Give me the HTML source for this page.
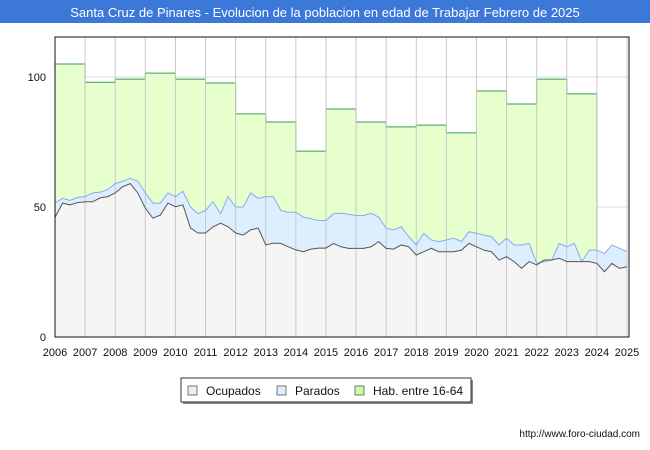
<!DOCTYPE html>
<html><head><meta charset="utf-8">
<style>
body{margin:0;background:#fff;font-family:"Liberation Sans",sans-serif;}
#wrap{position:relative;width:650px;height:450px;overflow:hidden;}
</style></head>
<body>
<div id="wrap">
<svg id="chart" width="650" height="450" xmlns="http://www.w3.org/2000/svg" font-family="Liberation Sans, sans-serif">
<rect x="0" y="0" width="650" height="450" fill="#fff"/>
<rect x="0" y="0" width="650" height="23" fill="#3b78d8"/>
<text x="325" y="17" text-anchor="middle" font-size="13" fill="#fff">Santa Cruz de Pinares - Evolucion de la poblacion en edad de Trabajar Febrero de 2025</text>
<g id="grid"></g>
<g id="series"></g>
<g id="axes"></g>
<g>
<rect x="183" y="380" width="290" height="24" fill="#888"/>
<rect x="181" y="378" width="290" height="24" fill="#fff" stroke="#333"/>
<rect x="188" y="386" width="9" height="9" fill="#eee" stroke="#777"/>
<text x="206" y="395" font-size="12" fill="#111">Ocupados</text>
<rect x="277" y="386" width="9" height="9" fill="#ddeeff" stroke="#777"/>
<text x="295" y="395" font-size="12" fill="#111">Parados</text>
<rect x="355" y="386" width="9" height="9" fill="#ccff99" stroke="#777"/>
<text x="373" y="395" font-size="12" fill="#111">Hab. entre 16-64</text>
</g>
<text x="640" y="437" text-anchor="end" font-size="10" fill="#111">http://www.foro-ciudad.com</text>
</svg>
</div>
<script>
const years = [2006,2007,2008,2009,2010,2011,2012,2013,2014,2015,2016,2017,2018,2019,2020,2021,2022,2023,2024,2025];
const habValues = [105,98,99.2,101.5,99.2,97.7,85.8,82.7,71.5,87.7,82.7,80.8,81.5,78.5,94.6,89.6,99.2,93.5];
const ocupados = [46,51.5,50.8,51.7,52,52,53.5,54,55.4,57.8,59,55.4,49.6,45.7,46.9,51.5,50.1,50.8,41.9,40,40,42.4,43.8,42.4,40,39.2,41.2,41.9,35.4,36.1,36,34.7,33.5,32.8,33.8,34.2,34.2,36,34.7,34.1,34.1,34.1,34.7,36.7,34.1,33.8,35.4,34.7,31.5,32.8,34.1,32.8,32.8,32.8,33.4,36,34.7,33.4,32.8,29.6,30.9,29,26.4,29,27.7,29.6,29.6,30.3,29,29,29,29,28.3,25.1,28.3,26.4,27];
const totalActivos = [51.5,53.3,52.5,53.7,54,55.4,55.7,56.7,59,59.9,61,59.9,55.4,51.5,51.5,55.4,54,56,50,47.4,48.7,52,47.4,54,50,50,55.4,53.3,54,54,48.7,48,48,46.1,45.5,44.8,44.8,47.4,47.6,47.2,46.7,46.7,47.6,46.1,41.8,41.2,42.4,38.6,35.4,39.9,37.3,36.7,37.3,38,36.7,40.5,39.9,39.2,38.6,35.4,38,35.4,35.4,36,28.3,29,29.6,36,34.7,36,29,33.4,33.4,32.1,35.4,34.1,32.8];
const yTicks = [0,50,100];

const NS="http://www.w3.org/2000/svg";
const X0=55,X1=627,Y0=337,PT=37,PR=629;
const xs=t=>X0+(t-2006)*(X1-X0)/19;
const ys=v=>Y0-v*2.6;
const qt=i=>2006+i*0.25;
function mk(tag,attrs,parent){const e=document.createElementNS(NS,tag);for(const k in attrs)e.setAttribute(k,attrs[k]);parent.appendChild(e);return e;}
const grid=document.getElementById('grid'),ser=document.getElementById('series'),ax=document.getElementById('axes');

yTicks.forEach(v=>{
  const l=mk('line',{x1:X0,x2:PR,y1:ys(v),y2:ys(v),stroke:'#ddd'},grid);
  
  
  const t=mk('text',{x:46,y:ys(v)+4,'text-anchor':'end','font-size':11,fill:'#111'},ax);
  t.textContent=v;
  
  
});

// hab step area
let hp=`M${xs(2006)},${ys(0)}`;
habValues.forEach((v,i)=>{hp+=` L${xs(years[i])},${ys(v)} L${xs(years[i+1])},${ys(v)}`;});
const habEnd=xs(years[habValues.length]);
const habArea=mk('path',{d:hp+` L${habEnd},${ys(0)} Z`,fill:'#e6ffcc'},ser);


let hl=`M${xs(2006)},${ys(habValues[0])}`;
habValues.forEach((v,i)=>{hl+=` L${xs(years[i])},${ys(v)} L${xs(years[i+1])},${ys(v)}`;});
hl+=` L${habEnd},${ys(totalActivos[Math.round((years[habValues.length]-2006)*4)])}`;
const habLine=mk('path',{d:hl,fill:'none',stroke:'#3a9a5a','stroke-width':1},ser);



function areaPath(arr){let p=`M${xs(qt(0))},${ys(0)}`;arr.forEach((v,i)=>p+=` L${xs(qt(i))},${ys(v)}`);return p+` L${xs(qt(arr.length-1))},${ys(0)} Z`;}
function linePath(arr){return arr.map((v,i)=>(i?'L':'M')+xs(qt(i))+','+ys(v)).join(' ');}

const pa=mk('path',{d:areaPath(totalActivos),fill:'#ddeeff'},ser);


const oa=mk('path',{d:areaPath(ocupados),fill:'#f5f5f5'},ser);



years.forEach(y=>{
  if(y===2006)return;
  const l=mk('line',{x1:xs(y),x2:xs(y),y1:PT,y2:Y0,stroke:'#c8c8c8'},ser);
  
  
});

const pl=mk('path',{d:linePath(totalActivos),fill:'none',stroke:'#88aaee','stroke-width':1},ser);


const ol=mk('path',{d:linePath(ocupados),fill:'none',stroke:'#555','stroke-width':1},ser);



const frame=mk('rect',{x:X0,y:PT,width:PR-X0,height:Y0-PT,fill:'none',stroke:'#111','stroke-width':1},ax);



years.forEach(y=>{
  const t=mk('text',{x:xs(y),y:356,'text-anchor':'middle','font-size':11,fill:'#111'},ax);
  t.textContent=y;
  
  
});
</script>
</body></html>
